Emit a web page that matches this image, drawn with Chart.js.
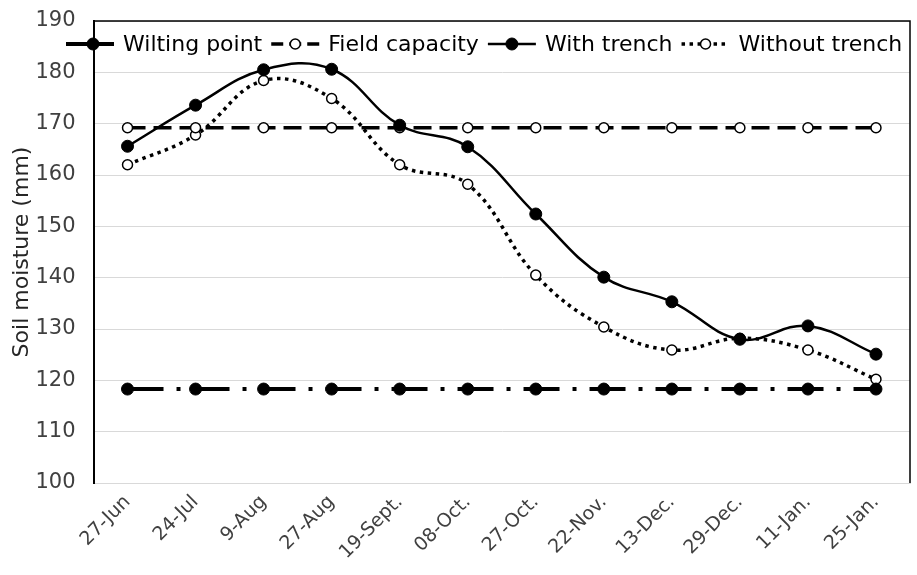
<!DOCTYPE html>
<html>
<head>
<meta charset="utf-8">
<script src="https://cdn.jsdelivr.net/npm/chart.js@4.4.1/dist/chart.umd.min.js"></script>
<style>
  html, body { margin: 0; padding: 0; background: #ffffff; }
  #wrap { width: 917px; height: 575px; }
</style>
</head>
<body>
<div id="wrap"><canvas id="chart" width="917" height="575"></canvas></div>
<script>
// Sampling dates
const dates = ['27-Jun', '24-Jul', '9-Aug', '27-Aug', '19-Sept.', '08-Oct.', '27-Oct.',
               '22-Nov.', '13-Dec.', '29-Dec.', '11-Jan.', '25-Jan.'];

// Soil moisture (mm)
const wiltingPoint  = [118.3, 118.3, 118.3, 118.3, 118.3, 118.3, 118.3, 118.3, 118.3, 118.3, 118.3, 118.3];
const fieldCapacity = [169.2, 169.2, 169.2, 169.2, 169.2, 169.2, 169.2, 169.2, 169.2, 169.2, 169.2, 169.2];
const withTrench    = [165.6, 173.6, 180.5, 180.6, 169.7, 165.5, 152.4, 140.1, 135.3, 128.0, 130.6, 125.1];
const withoutTrench = [162.0, 167.8, 178.4, 174.9, 162.0, 158.2, 140.5, 130.4, 125.9, 128.2, 125.9, 120.2];

// Y axis range
const yMin = 100;
const yMax = 190;
const yStep = 10;

const FONT = '"DejaVu Sans", Verdana, sans-serif';
const GRID = '#d9d9d9';
const TEXT = '#404040';

// Black frame on the top and right of the plot area
const frame = {
  id: 'frame',
  afterDatasetsDraw(chart) {
    const { ctx, chartArea: a } = chart;
    ctx.save();
    ctx.strokeStyle = '#000';
    ctx.lineWidth = 1.5;
    ctx.beginPath();
    ctx.moveTo(a.left, a.top);
    ctx.lineTo(a.right, a.top);
    ctx.lineTo(a.right, a.bottom);
    ctx.stroke();
    ctx.restore();
  }
};

// Single-row legend drawn across the top of the plot area
const rowLegend = {
  id: 'rowLegend',
  afterDraw(chart, args, opts) {
    const { ctx } = chart;
    const y = opts.y;
    let x = opts.x;
    ctx.save();
    ctx.font = opts.font;
    ctx.textBaseline = 'middle';
    chart.data.datasets.forEach(ds => {
      const w = opts.sample;
      ctx.save();
      ctx.strokeStyle = ds.borderColor;
      ctx.lineWidth = ds.borderWidth;
      ctx.setLineDash(ds.legendDash || ds.borderDash || []);
      ctx.lineCap = 'butt';
      ctx.beginPath();
      ctx.moveTo(x, y);
      ctx.lineTo(x + w, y);
      ctx.stroke();
      ctx.setLineDash([]);
      ctx.fillStyle = ds.pointBackgroundColor;
      ctx.strokeStyle = ds.pointBorderColor;
      ctx.lineWidth = ds.pointBorderWidth;
      Chart.helpers.drawPoint(ctx, {
        pointStyle: 'circle', radius: ds.pointRadius, borderWidth: ds.pointBorderWidth, rotation: 0
      }, x + (ds.legendMarkAt != null ? ds.legendMarkAt : w / 2), y);
      ctx.restore();
      x += w + opts.textGap;
      ctx.fillStyle = '#000';
      ctx.fillText(ds.label, x, y + 1);
      x += ctx.measureText(ds.label).width + opts.itemGap;
    });
    ctx.restore();
  }
};

new Chart(document.getElementById('chart'), {
  type: 'line',
  data: {
    labels: dates,
    datasets: [
      {
        label: 'Wilting point',
        data: wiltingPoint,
        borderColor: '#000',
        borderWidth: 4,
        borderDash: [36, 13, 4, 13],
        legendDash: [],
        legendMarkAt: 27,
        borderCapStyle: 'butt',
        tension: 0,
        pointRadius: 6,
        pointBackgroundColor: '#000',
        pointBorderColor: '#000',
        pointBorderWidth: 1,
        order: 1
      },
      {
        label: 'Field capacity',
        data: fieldCapacity,
        borderColor: '#000',
        borderWidth: 3.5,
        borderDash: [18, 8],
        legendDash: [12, 6],
        borderCapStyle: 'butt',
        tension: 0,
        pointRadius: 5,
        pointBackgroundColor: '#fff',
        pointBorderColor: '#000',
        pointBorderWidth: 1.5,
        order: 2
      },
      {
        label: 'With trench',
        data: withTrench,
        borderColor: '#000',
        borderWidth: 2.5,
        borderDash: [],
        tension: 0.4,
        pointRadius: 6,
        pointBackgroundColor: '#000',
        pointBorderColor: '#000',
        pointBorderWidth: 1,
        order: 0
      },
      {
        label: 'Without trench',
        data: withoutTrench,
        borderColor: '#000',
        borderWidth: 3.5,
        borderDash: [3.5, 4.5],
        borderCapStyle: 'butt',
        tension: 0.4,
        pointRadius: 5,
        pointBackgroundColor: '#fff',
        pointBorderColor: '#000',
        pointBorderWidth: 1.5,
        order: 3
      }
    ]
  },
  options: {
    responsive: false,
    animation: false,
    devicePixelRatio: 1,
    layout: { padding: { top: 21, right: 7, left: 0, bottom: 0 } },
    plugins: {
      legend: { display: false },
      tooltip: { enabled: false },
      rowLegend: { x: 66, y: 44, sample: 48, textGap: 9, itemGap: 9, font: '22px ' + FONT }
    },
    scales: {
      x: {
        offset: true,
        grid: { display: false, drawTicks: false },
        border: { display: true, color: GRID, width: 1 },
        ticks: {
          color: TEXT,
          font: { family: FONT, size: 19 },
          minRotation: 45,
          maxRotation: 45,
          padding: 8,
          autoSkip: false
        },
        afterFit(scale) { scale.height = 92; }
      },
      y: {
        min: yMin,
        max: yMax,
        grid: { color: GRID, lineWidth: 1, drawTicks: false },
        border: { display: true, color: '#000', width: 2 },
        ticks: {
          stepSize: yStep,
          color: TEXT,
          font: { family: FONT, size: 21 },
          padding: 18
        },
        title: {
          display: true,
          text: 'Soil moisture (mm)',
          color: '#262626',
          font: { family: FONT, size: 22 },
          padding: { top: 9, bottom: 0 }
        },
        afterFit(scale) {
          scale.width = 93.5;
          scale.paddingTop = 0;
          scale.paddingBottom = 0;
        }
      }
    }
  },
  plugins: [frame, rowLegend]
});
</script>
</body>
</html>
